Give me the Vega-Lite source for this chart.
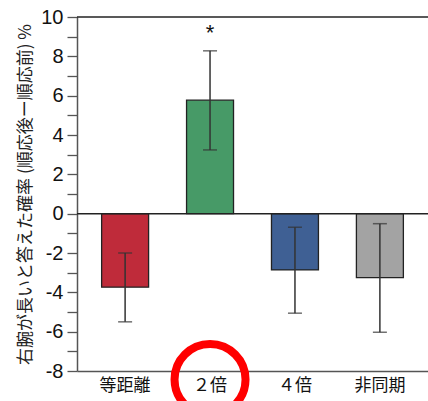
{
  "$schema": "https://vega.github.io/schema/vega-lite/v6.json",
  "width": 351,
  "height": 354,
  "autosize": "none",
  "padding": {"left": 77, "top": 17, "right": 0, "bottom": 30},
  "background": "white",
  "config": {"view": {"stroke": null}},
  "datasets": {
    "bars": [
      {"cond": "等距離", "value": -3.74, "lo": -5.5, "hi": -2.0, "color": "#BF2B3A"},
      {"cond": "２倍", "value": 5.77, "lo": 3.24, "hi": 8.28, "color": "#479A67"},
      {"cond": "４倍", "value": -2.86, "lo": -5.06, "hi": -0.69, "color": "#3F6094"},
      {"cond": "非同期", "value": -3.25, "lo": -6.03, "hi": -0.51, "color": "#A3A3A3"}
    ]
  },
  "encoding": {
    "x": {
      "field": "cond", "type": "nominal", "sort": null,
      "scale": {"paddingInner": 0.447, "paddingOuter": 0.29},
      "axis": {
        "title": null, "labelAngle": 0, "ticks": false, "domain": true, "grid": false,
        "domainColor": "#555555", "domainWidth": 1.5,
        "labelFont": "Noto Sans CJK JP", "labelFontSize": 17, "labelColor": "#111111",
        "labelPadding": 6
      }
    }
  },
  "layer": [
    {
      "data": {"name": "bars"},
      "mark": {"type": "bar", "stroke": "#222222", "strokeWidth": 1.3},
      "encoding": {
        "y": {
          "field": "value", "type": "quantitative",
          "scale": {"domain": [-8, 10], "nice": false, "zero": false},
          "axis": {
            "values": [-8, -7, -6, -5, -4, -3, -2, -1, 0, 1, 2, 3, 4, 5, 6, 7, 8, 9, 10],
            "labelExpr": "datum.value % 2 === 0 ? toString(datum.value) : ''",
            "labelOverlap": false, "grid": false, "ticks": true,
            "domainColor": "#555555", "domainWidth": 1.5,
            "tickColor": "#555555", "tickWidth": 1.3, "tickSize": 10,
            "encode": {"ticks": {"update": {"x2": {"signal": "datum.value % 2 === 0 ? -10 : -5"}}}},
            "labelFont": "Liberation Sans", "labelFontSize": 20, "labelColor": "#111111",
            "labelPadding": 4,
            "title": "右腕が長いと答えた確率 (順応後ー順応前) %",
            "titleFont": "Noto Sans CJK JP", "titleFontSize": 17, "titleFontWeight": "normal",
            "titleColor": "#222222", "titlePadding": 6
          }
        },
        "color": {"field": "color", "type": "nominal", "scale": null, "legend": null}
      }
    },
    {
      "data": {"values": [{"y": 0}, {"y": 10}]},
      "mark": {"type": "rule", "color": "#222222", "strokeWidth": 1.5},
      "encoding": {
        "x": null,
        "y": {"field": "y", "type": "quantitative", "axis": {
            "values": [-8, -7, -6, -5, -4, -3, -2, -1, 0, 1, 2, 3, 4, 5, 6, 7, 8, 9, 10],
            "labelExpr": "datum.value % 2 === 0 ? toString(datum.value) : ''",
            "labelOverlap": false, "grid": false, "ticks": true,
            "domainColor": "#555555", "domainWidth": 1.5,
            "tickColor": "#555555", "tickWidth": 1.3, "tickSize": 10,
            "encode": {"ticks": {"update": {"x2": {"signal": "datum.value % 2 === 0 ? -10 : -5"}}}},
            "labelFont": "Liberation Sans", "labelFontSize": 20, "labelColor": "#111111",
            "labelPadding": 4,
            "title": "右腕が長いと答えた確率 (順応後ー順応前) %",
            "titleFont": "Noto Sans CJK JP", "titleFontSize": 17, "titleFontWeight": "normal",
            "titleColor": "#222222", "titlePadding": 6
          }}
      }
    },
    {
      "data": {"name": "bars"},
      "mark": {"type": "rule", "color": "#333333", "strokeWidth": 1.5},
      "encoding": {
        "y": {"field": "lo", "type": "quantitative", "axis": {
            "values": [-8, -7, -6, -5, -4, -3, -2, -1, 0, 1, 2, 3, 4, 5, 6, 7, 8, 9, 10],
            "labelExpr": "datum.value % 2 === 0 ? toString(datum.value) : ''",
            "labelOverlap": false, "grid": false, "ticks": true,
            "domainColor": "#555555", "domainWidth": 1.5,
            "tickColor": "#555555", "tickWidth": 1.3, "tickSize": 10,
            "encode": {"ticks": {"update": {"x2": {"signal": "datum.value % 2 === 0 ? -10 : -5"}}}},
            "labelFont": "Liberation Sans", "labelFontSize": 20, "labelColor": "#111111",
            "labelPadding": 4,
            "title": "右腕が長いと答えた確率 (順応後ー順応前) %",
            "titleFont": "Noto Sans CJK JP", "titleFontSize": 17, "titleFontWeight": "normal",
            "titleColor": "#222222", "titlePadding": 6
          }},
        "y2": {"field": "hi"}
      }
    },
    {
      "data": {"name": "bars"},
      "mark": {"type": "tick", "color": "#333333", "thickness": 1.5, "size": 14, "orient": "horizontal"},
      "encoding": {
        "y": {"field": "lo", "type": "quantitative", "axis": {
            "values": [-8, -7, -6, -5, -4, -3, -2, -1, 0, 1, 2, 3, 4, 5, 6, 7, 8, 9, 10],
            "labelExpr": "datum.value % 2 === 0 ? toString(datum.value) : ''",
            "labelOverlap": false, "grid": false, "ticks": true,
            "domainColor": "#555555", "domainWidth": 1.5,
            "tickColor": "#555555", "tickWidth": 1.3, "tickSize": 10,
            "encode": {"ticks": {"update": {"x2": {"signal": "datum.value % 2 === 0 ? -10 : -5"}}}},
            "labelFont": "Liberation Sans", "labelFontSize": 20, "labelColor": "#111111",
            "labelPadding": 4,
            "title": "右腕が長いと答えた確率 (順応後ー順応前) %",
            "titleFont": "Noto Sans CJK JP", "titleFontSize": 17, "titleFontWeight": "normal",
            "titleColor": "#222222", "titlePadding": 6
          }}
      }
    },
    {
      "data": {"name": "bars"},
      "mark": {"type": "tick", "color": "#333333", "thickness": 1.5, "size": 14, "orient": "horizontal"},
      "encoding": {
        "y": {"field": "hi", "type": "quantitative", "axis": {
            "values": [-8, -7, -6, -5, -4, -3, -2, -1, 0, 1, 2, 3, 4, 5, 6, 7, 8, 9, 10],
            "labelExpr": "datum.value % 2 === 0 ? toString(datum.value) : ''",
            "labelOverlap": false, "grid": false, "ticks": true,
            "domainColor": "#555555", "domainWidth": 1.5,
            "tickColor": "#555555", "tickWidth": 1.3, "tickSize": 10,
            "encode": {"ticks": {"update": {"x2": {"signal": "datum.value % 2 === 0 ? -10 : -5"}}}},
            "labelFont": "Liberation Sans", "labelFontSize": 20, "labelColor": "#111111",
            "labelPadding": 4,
            "title": "右腕が長いと答えた確率 (順応後ー順応前) %",
            "titleFont": "Noto Sans CJK JP", "titleFontSize": 17, "titleFontWeight": "normal",
            "titleColor": "#222222", "titlePadding": 6
          }}
      }
    },
    {
      "data": {"values": [{"cond": "２倍", "y": 9.2, "t": "*"}]},
      "mark": {"type": "text", "font": "Liberation Sans", "fontSize": 22, "color": "#111111", "baseline": "middle"},
      "encoding": {
        "y": {"field": "y", "type": "quantitative", "axis": {
            "values": [-8, -7, -6, -5, -4, -3, -2, -1, 0, 1, 2, 3, 4, 5, 6, 7, 8, 9, 10],
            "labelExpr": "datum.value % 2 === 0 ? toString(datum.value) : ''",
            "labelOverlap": false, "grid": false, "ticks": true,
            "domainColor": "#555555", "domainWidth": 1.5,
            "tickColor": "#555555", "tickWidth": 1.3, "tickSize": 10,
            "encode": {"ticks": {"update": {"x2": {"signal": "datum.value % 2 === 0 ? -10 : -5"}}}},
            "labelFont": "Liberation Sans", "labelFontSize": 20, "labelColor": "#111111",
            "labelPadding": 4,
            "title": "右腕が長いと答えた確率 (順応後ー順応前) %",
            "titleFont": "Noto Sans CJK JP", "titleFontSize": 17, "titleFontWeight": "normal",
            "titleColor": "#222222", "titlePadding": 6
          }},
        "text": {"field": "t"}
      }
    },
    {
      "data": {"values": [{"cond": "２倍", "y": -8.43}]},
      "mark": {"type": "point", "shape": "circle", "filled": false, "stroke": "#FF0000", "strokeWidth": 8, "size": 5041, "opacity": 1},
      "encoding": {
        "y": {"field": "y", "type": "quantitative", "axis": {
            "values": [-8, -7, -6, -5, -4, -3, -2, -1, 0, 1, 2, 3, 4, 5, 6, 7, 8, 9, 10],
            "labelExpr": "datum.value % 2 === 0 ? toString(datum.value) : ''",
            "labelOverlap": false, "grid": false, "ticks": true,
            "domainColor": "#555555", "domainWidth": 1.5,
            "tickColor": "#555555", "tickWidth": 1.3, "tickSize": 10,
            "encode": {"ticks": {"update": {"x2": {"signal": "datum.value % 2 === 0 ? -10 : -5"}}}},
            "labelFont": "Liberation Sans", "labelFontSize": 20, "labelColor": "#111111",
            "labelPadding": 4,
            "title": "右腕が長いと答えた確率 (順応後ー順応前) %",
            "titleFont": "Noto Sans CJK JP", "titleFontSize": 17, "titleFontWeight": "normal",
            "titleColor": "#222222", "titlePadding": 6
          }}
      }
    }
  ]
}
